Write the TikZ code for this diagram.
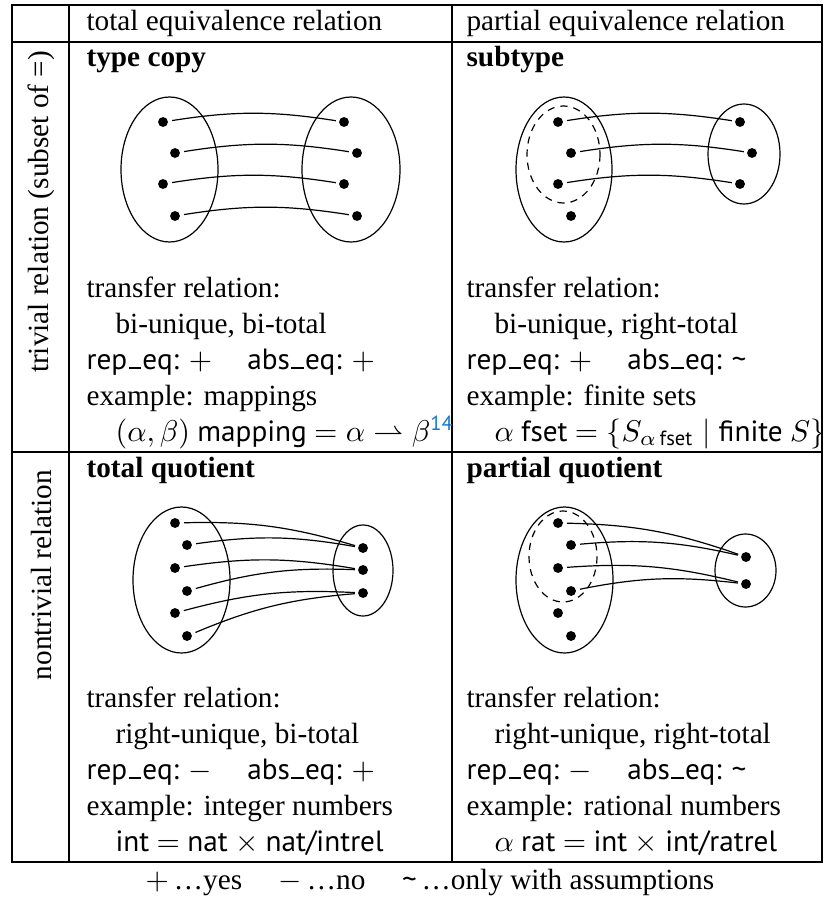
\documentclass[tikz,border=0pt]{standalone}
\usepackage{amsmath,amssymb}
\usepackage{fontspec}
\setmainfont{Liberation Serif}
\setsansfont{PT Sans}
\usetikzlibrary{calc}
\definecolor{link-blue}{RGB}{20,120,200}
\tikzstyle{elt}=[circle,fill=black,inner sep=0pt,minimum size=3.3pt]
\tikzstyle{relline}=[bend left=9,shorten <=1.2pt,shorten >=0.9pt]
\tikzstyle{subsetline}=[dash pattern=on 2.4pt off 2pt]
\tikzstyle{tablerule}=[line width=0.45pt]
\tikzstyle{cell}=[anchor=base west,inner sep=0pt]
\newcommand{\uscore}{\kern.05em\rule{.42em}{.06em}\kern.05em}
\newcommand{\tld}{\textsf{\textasciitilde}}
\newcommand{\eqgap}{\hspace{1.2em}}
\def\drawset[#1](#2)(#3:#4)% Syntax: [draw options] (center) (x radius:y radius)
    { \draw[#1] (#2) ellipse [x radius=#3, y radius=#4]; }
\newcommand{\elements}[2]{% #1: name prefix, #2: list of index/x/y
  \foreach \i/\x/\y in {#2} { \node[elt] (#1\i) at (\x,\y) {}; }
}

\begin{document}
\begin{tikzpicture}[x=0.3333pt,y=-0.3333pt,font=\fontsize{9.75}{11.7}\selectfont]
\useasboundingbox (0,0) rectangle (823,897);
% the table rules
\draw[tablerule] (12,5) rectangle (822,862);
\draw[tablerule] (69,5) -- (69,862) (452,5) -- (452,862);
\draw[tablerule] (12,42) -- (822,42) (12,452) -- (822,452);
% column and row heads
\node[cell] (hd-total) at (86,31) {total equivalence relation};
\node[cell] (hd-partial) at (466,31) {partial equivalence relation};
\node[rotate=90] (lb-trivial) at (41,212) {trivial relation (subset of =)};
\node[rotate=90] (lb-nontrivial) at (41,575) {nontrivial relation};

% type copy
\node[cell] (copy-title) at (86,67) {\textbf{type copy}};
\drawset[black](169.5,169.5)(48.5:72.5)
\drawset[black](351,169.5)(49:72.5)
\elements{copy-a}{1/163/122,2/175/153,3/163/184,4/175/216}
\elements{copy-b}{1/344/122,2/357/153,3/344/184,4/357/216}
\foreach \i in {1,...,4} \draw[relline] (copy-a\i) to (copy-b\i);
\node[cell] (copy-t1) at (86,297) {transfer relation:};
\node[cell] (copy-t2) at (115,333) {bi-unique, bi-total};
\node[cell] (copy-t3) at (86,369) {\textsf{rep\uscore eq:} $+$\eqgap\textsf{abs\uscore eq:} $+$};
\node[cell] (copy-t4) at (86,405) {example: mappings};
\node[cell] (copy-t5) at (115,441) {$(\alpha, \beta)$ \textsf{mapping} $= \alpha \rightharpoonup \beta^{\textcolor{link-blue}{\textsf{14}}}$};

% subtype
\node[cell] (sub-title) at (466,67) {\textbf{subtype}};
\drawset[black](564,169.5)(48:72.5)
\drawset[subsetline](563.5,154.5)(36.5:48.5)
\drawset[black](744,154)(36:50)
\elements{sub-a}{1/558/122,2/571/153,3/558/184,4/571/216}
\elements{sub-b}{1/740/122,2/752/153,3/740/184}
\foreach \i in {1,2,3} \draw[relline] (sub-a\i) to (sub-b\i);
\node[cell] (sub-t1) at (466,297) {transfer relation:};
\node[cell] (sub-t2) at (494,333) {bi-unique, right-total};
\node[cell] (sub-t3) at (466,369) {\textsf{rep\uscore eq:} $+$\eqgap\textsf{abs\uscore eq:} \tld};
\node[cell] (sub-t4) at (466,405) {example: finite sets};
\node[cell] (sub-t5) at (494,441) {$\alpha$ \textsf{fset} $= \left\{S_{\alpha\,\textsf{fset}} \;\middle|\; \textsf{finite}\ S\right\}$};

% total quotient
\node[cell] (tq-title) at (86,477) {\textbf{total quotient}};
\drawset[black](181.5,580)(48.5:73)
\drawset[black](363,570.5)(30:45.5)
\elements{tq-a}{1/175/523,2/187/545,3/175/568,4/187/591,5/175/613,6/187/636}
\elements{tq-b}{1/363/548,2/363/570,3/363/593}
\foreach \a/\b in {1/1,2/1,3/2,4/2,5/3,6/3} \draw[relline] (tq-a\a) to (tq-b\b);
\node[cell] (tq-t1) at (86,707) {transfer relation:};
\node[cell] (tq-t2) at (115,743) {right-unique, bi-total};
\node[cell] (tq-t3) at (86,779) {\textsf{rep\uscore eq:} $-$\eqgap\textsf{abs\uscore eq:} $+$};
\node[cell] (tq-t4) at (86,815) {example: integer numbers};
\node[cell] (tq-t5) at (115,851) {\textsf{int} $=$ \textsf{nat} $\times$ \textsf{nat/intrel}};

% partial quotient
\node[cell] (pq-title) at (466,477) {\textbf{partial quotient}};
\drawset[black](564.5,580)(48.5:73)
\drawset[subsetline](563,556.5)(34:45.5)
\drawset[black](745.5,570.5)(30.5:36.5)
\elements{pq-a}{1/558/523,2/571/545,3/558/568,4/571/591,5/558/613,6/571/636}
\elements{pq-b}{1/746/557,2/746/584}
\foreach \a/\b in {1/1,2/1,3/2,4/2} \draw[relline] (pq-a\a) to (pq-b\b);
\node[cell] (pq-t1) at (466,707) {transfer relation:};
\node[cell] (pq-t2) at (494,743) {right-unique, right-total};
\node[cell] (pq-t3) at (466,779) {\textsf{rep\uscore eq:} $-$\eqgap\textsf{abs\uscore eq:} \tld};
\node[cell] (pq-t4) at (466,815) {example: rational numbers};
\node[cell] (pq-t5) at (494,851) {$\alpha$ \textsf{rat} $=$ \textsf{int} $\times$ \textsf{int/ratrel}};

% legend below the table
\node[anchor=base] (legend) at (430,889) {$+$\,\ldots yes\quad\ $-$\,\ldots no\quad\ \tld\,\ldots only with assumptions};
\end{tikzpicture}
\end{document}
